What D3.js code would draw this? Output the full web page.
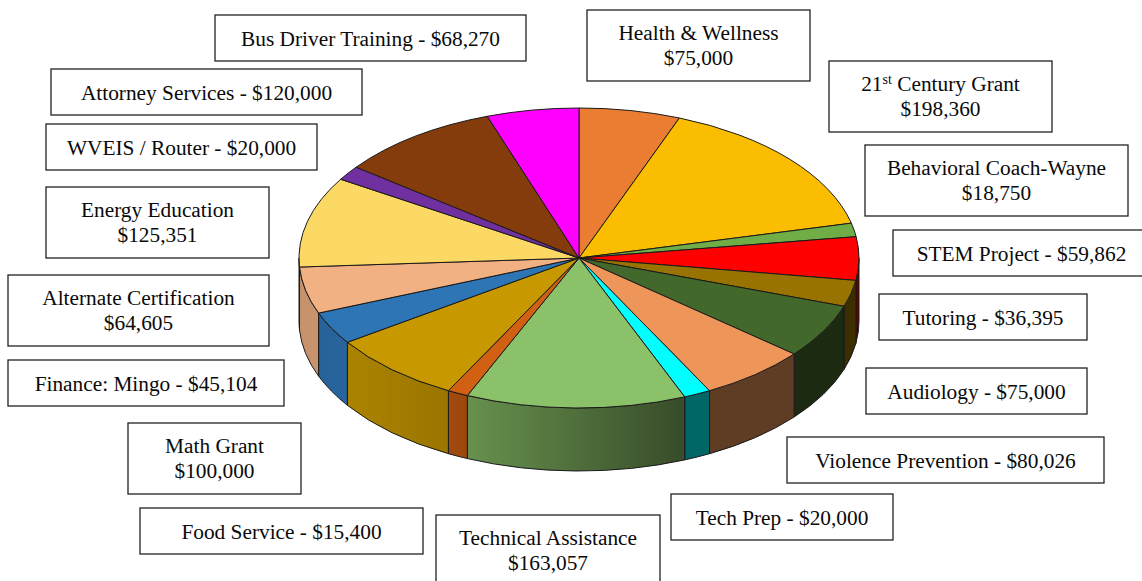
<!DOCTYPE html>
<html lang="en">
  <head>
    <meta charset="utf-8">
    <title>Grant funding pie</title>
    <style type="text/css">
      html, body{
        margin: 0;
        padding: 0;
        background-color: white;
        overflow: hidden;
      }
      svg{
        display: block;
      }
      .box-text{
        font-family: "Liberation Serif", serif;
        font-size: 21.33px;
        fill: #0a0a0a;
        text-anchor: middle;
      }
    </style>
  </head>
  <body>
    <div id='svg_container'></div>

    <script src="https://d3js.org/d3.v7.min.js"></script>
    <script type="text/javascript">
      // clockwise from 12 o'clock, same order as the picture
      const names = ['Health & Wellness', '21st Century Grant', 'Behavioral Coach-Wayne', 'STEM Project', 'Tutoring',
        'Audiology', 'Violence Prevention', 'Tech Prep', 'Technical Assistance', 'Food Service', 'Math Grant',
        'Finance: Mingo', 'Alternate Certification', 'Energy Education', 'WVEIS / Router', 'Attorney Services', 'Bus Driver Training'];
      const amounts = [75000, 198360, 18750, 59862, 36395, 75000, 80026, 20000, 163057, 15400, 100000, 45104, 64605, 125351, 20000, 120000, 68270];
      const colors = ['#EB7D33', '#FBBD00', '#70AD47', '#FF0000', '#997300', '#43682B', '#EE955A', '#00FFFF', '#8BC168',
        '#D26012', '#C89800', '#2E75B6', '#F1B183', '#FCD865', '#7030A0', '#843C0C', '#FF00FF'];

      // label boxes: left, top, right, bottom
      const boxes = [[587,10,810,81], [829,61,1052,132], [865,145,1128,216], [893,230,1150,276], [879,294,1087,340],
        [866,368,1087,414], [787,437,1104,483], [671,494,893,540], [436,515,660,590], [140,508,423,554], [128,423,301,494],
        [8,360,284,406], [8,275,269,346], [46,187,269,258], [46,124,317,170], [51,69,362,115], [215,15,526,61]];
      // names that go on two lines with the amount below
      const twoLine = [0, 1, 2, 8, 10, 12, 13];

      const w = 1142;
      const h = 581;
      const cx = 579;
      const cy = 258;
      const rx = 280;
      const ry = 150;
      const depth = 63;

      const fmt = d3.format('$,');
      const svg = d3.select('#svg_container').append('svg').attr('width', w).attr('height', h);
      const defs = svg.append('defs');

      const pie = d3.pie().sort(null).value(d => d);
      const slices = pie(amounts);

      // side wall gets darker going from left to right
      const shadeX = [298, 347, 448, 470, 560, 680, 859];
      const shadeK = [0.82, 0.86, 0.77, 0.74, 0.6, 0.4, 0.4];

      colors.forEach(function(c, i){
        var grad = defs.append('linearGradient').attr('id', 'side' + i).attr('gradientUnits', 'userSpaceOnUse')
          .attr('x1', cx - rx).attr('x2', cx + rx).attr('y1', 0).attr('y2', 0);
        shadeX.forEach(function(x, j){
          var col = d3.rgb(c);
          var k = shadeK[j];
          grad.append('stop').attr('offset', (x - (cx - rx)) / (2 * rx))
            .attr('stop-color', d3.rgb(col.r * k, col.g * k, col.b * k).formatHex());
        });
      });

      function px(a){ return cx + rx * Math.sin(a); }
      function py(a){ return cy - ry * Math.cos(a); }

      // only the front half of the rim can be seen
      const walls = slices.map(function(d, i){
        return {i: i, a0: Math.max(d.startAngle, Math.PI / 2), a1: Math.min(d.endAngle, Math.PI * 3 / 2)};
      }).filter(d => d.a1 > d.a0);

      svg.append('g').selectAll('path').data(walls).enter().append('path')
        .attr('d', function(d){
          return 'M' + px(d.a0) + ',' + py(d.a0)
            + 'A' + rx + ',' + ry + ' 0 0 1 ' + px(d.a1) + ',' + py(d.a1)
            + 'L' + px(d.a1) + ',' + (py(d.a1) + depth)
            + 'A' + rx + ',' + ry + ' 0 0 0 ' + px(d.a0) + ',' + (py(d.a0) + depth) + 'Z';
        })
        .attr('fill', d => 'url(#side' + d.i + ')')
        .attr('stroke', '#1a1a1a').attr('stroke-width', 1).attr('stroke-linejoin', 'round');

      const arc = d3.arc().innerRadius(0).outerRadius(rx);
      svg.append('g').attr('transform', 'translate(' + cx + ',' + cy + ') scale(1,' + (ry / rx) + ')')
        .selectAll('path').data(slices).enter().append('path')
        .attr('d', arc)
        .attr('fill', (d, i) => colors[i])
        .attr('stroke', '#1a1a1a').attr('stroke-width', 1).attr('stroke-linejoin', 'round')
        .attr('vector-effect', 'non-scaling-stroke');

      const labels = svg.append('g').selectAll('g').data(names).enter().append('g');

      labels.append('rect')
        .attr('x', (d, i) => boxes[i][0]).attr('y', (d, i) => boxes[i][1])
        .attr('width', (d, i) => boxes[i][2] - boxes[i][0]).attr('height', (d, i) => boxes[i][3] - boxes[i][1])
        .attr('fill', 'white').attr('stroke', '#222').attr('stroke-width', 1.3);

      labels.each(function(name, i){
        var g = d3.select(this);
        var b = boxes[i];
        var mid = (b[2] + b[0]) / 2;
        var amount = fmt(amounts[i]);
        if (twoLine.indexOf(i) >= 0){
          var first = g.append('text').attr('class', 'box-text').attr('x', mid).attr('y', b[1] + 30);
          if (name.indexOf('21st') == 0){
            first.append('tspan').text('21');
            first.append('tspan').text('st').attr('font-size', 14).attr('dy', -7);
            first.append('tspan').text(name.substring(4)).attr('dy', 7);
          } else {
            first.text(name);
          }
          g.append('text').attr('class', 'box-text').attr('x', mid).attr('y', b[1] + 55).text(amount);
        } else {
          g.append('text').attr('class', 'box-text').attr('x', mid).attr('y', b[1] + 31).text(name + ' - ' + amount);
        }
      });
    </script>
  </body>
</html>
